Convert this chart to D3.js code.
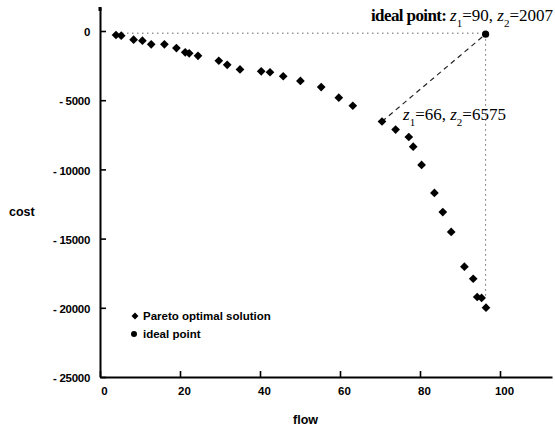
<!DOCTYPE html>
<html>
<head>
<meta charset="utf-8">
<script src="https://cdn.jsdelivr.net/npm/d3@7"></script>
<style>
  html, body { margin: 0; padding: 0; background: #fff; }
  svg { display: block; }
</style>
</head>
<body>
<svg id="chart" width="555" height="428"></svg>
<script>
// ---- data ----
const flow = [4, 5.3, 8.4, 10.6, 12.8, 16.1, 19.1, 21.3, 22.3, 24.5, 29.7, 31.8, 35, 40.3, 42.5, 45.8, 50.1, 55.3, 59.7, 63.2, 70.5, 73.9, 77.2, 78.3, 80.4, 83.6, 85.7, 87.8, 91.1, 93.3, 94.3, 95.4, 96.5];
const cost = [-290, -340, -630, -700, -960, -960, -1230, -1540, -1610, -1790, -2150, -2440, -2780, -2910, -2980, -3270, -3610, -4050, -4820, -5400, -6540, -7120, -7660, -8360, -9680, -11700, -13080, -14520, -17030, -17900, -19220, -19290, -19990];
const idealFlow = 96.4;
const idealCost = -230;
const chosenIndex = 20; // z1=66, z2=6575
const xTicks = [0, 20, 40, 60, 80, 100];
const yTicks = [0, -5000, -10000, -15000, -20000, -25000];
const legendLabels = ["Pareto optimal solution", "ideal point"];

// ---- layout ----
const svg = d3.select("#chart");
const x = d3.scaleLinear().domain([0, 113]).range([100, 552]);
const y = d3.scaleLinear().domain([-25000, 1734]).range([377, 7]);

const tickFont = "'Liberation Sans', Arial, sans-serif";

// axes
const xAxis = d3.axisBottom(x).tickValues(xTicks).tickSize(-6).tickPadding(10).tickSizeOuter(0);
const yAxis = d3.axisLeft(y).tickValues(yTicks).tickSize(-6).tickPadding(10).tickSizeOuter(0)
  .tickFormat(d => d === 0 ? "0" : "- " + Math.abs(d));

const gx = svg.append("g").attr("transform", `translate(0,${y(-25000)})`).call(xAxis);
const gy = svg.append("g").attr("transform", `translate(${x(0)},0)`).call(yAxis);

[gx, gy].forEach(g => {
  g.select(".domain").attr("stroke", "#000").attr("stroke-width", 2);
  g.selectAll(".tick line").attr("stroke", "#000").attr("stroke-width", 1.6);
  g.selectAll(".tick text").attr("fill", "#000")
    .style("font-family", tickFont).style("font-size", "11.5px").style("font-weight", "bold");
});
gx.selectAll(".tick text").attr("dx", 4);
gy.selectAll(".tick text").attr("dy", "0.4em").style("letter-spacing", "-0.3px");
// end cap on top of y axis
gy.append("line").attr("x1", 0).attr("x2", 0).attr("y1", y(1734)).attr("y2", y(1734) + 4)
  .attr("stroke", "#000").attr("stroke-width", 3);

// axis titles
svg.append("text").attr("x", 9).attr("y", 216).text("cost")
  .style("font-family", tickFont).style("font-size", "12.5px").style("font-weight", "bold");
svg.append("text").attr("x", 293).attr("y", 424).text("flow")
  .style("font-family", tickFont).style("font-size", "12.5px").style("font-weight", "bold");

// guide lines to the ideal point
svg.append("line")
  .attr("x1", x(flow[0]) + 6).attr("x2", x(idealFlow))
  .attr("y1", y(idealCost) - 1).attr("y2", y(idealCost) - 1)
  .attr("stroke", "#666").attr("stroke-width", 1).attr("stroke-dasharray", "1.5,3.5");
svg.append("line")
  .attr("x1", x(idealFlow)).attr("x2", x(idealFlow))
  .attr("y1", y(idealCost)).attr("y2", y(cost[cost.length - 3]))
  .attr("stroke", "#666").attr("stroke-width", 1).attr("stroke-dasharray", "1.5,3.5");
svg.append("line")
  .attr("x1", x(flow[chosenIndex])).attr("y1", y(cost[chosenIndex]))
  .attr("x2", x(idealFlow)).attr("y2", y(idealCost))
  .attr("stroke", "#222").attr("stroke-width", 1.2).attr("stroke-dasharray", "5,4");

// points
const diamond = d3.symbol().type(d3.symbolSquare).size(38);
const dot = d3.symbol().type(d3.symbolCircle).size(40);
svg.append("g").selectAll("path").data(flow.map((f, i) => [f, cost[i]])).join("path")
  .attr("d", diamond)
  .attr("transform", d => `translate(${x(d[0])},${y(d[1])}) rotate(45)`)
  .attr("fill", "#000");
svg.append("path").attr("d", dot)
  .attr("transform", `translate(${x(idealFlow)},${y(idealCost)})`).attr("fill", "#000");

// annotations
const serif = "'Liberation Serif', 'Times New Roman', serif";
function zLabel(sel, parts) {
  parts.forEach(p => {
    const t = sel.append("tspan").text(p.t).attr("fill", "#000");
    if (p.i) t.style("font-style", "italic");
    if (p.b) t.style("font-weight", "bold").style("letter-spacing", "-0.6px");
    if (p.sub) t.attr("baseline-shift", "sub").style("font-size", "11px");
  });
}
const a1 = svg.append("text").attr("x", 553).attr("y", 21).attr("text-anchor", "end")
  .style("font-family", serif).style("font-size", "17px");
zLabel(a1, [{t: "ideal point: ", b: true}, {t: "z", i: true}, {t: "1", sub: true}, {t: "=90, "},
  {t: "z", i: true}, {t: "2", sub: true}, {t: "=2007"}]);
const a2 = svg.append("text").attr("x", 403).attr("y", 120)
  .style("font-family", serif).style("font-size", "17px");
zLabel(a2, [{t: "z", i: true}, {t: "1", sub: true}, {t: "=66, "},
  {t: "z", i: true}, {t: "2", sub: true}, {t: "=6575"}]);

// legend
const lg = svg.append("g");
lg.append("path").attr("d", d3.symbol().type(d3.symbolSquare).size(24))
  .attr("transform", "translate(135,316) rotate(45)").attr("fill", "#000");
lg.append("path").attr("d", d3.symbol().type(d3.symbolCircle).size(28))
  .attr("transform", "translate(134,334)").attr("fill", "#000");
lg.selectAll("text").data(legendLabels).join("text")
  .attr("x", 143).attr("y", (d, i) => 320 + i * 18).text(d => d)
  .style("font-family", tickFont).style("font-size", "11.5px").style("font-weight", "600");
</script>
</body>
</html>
